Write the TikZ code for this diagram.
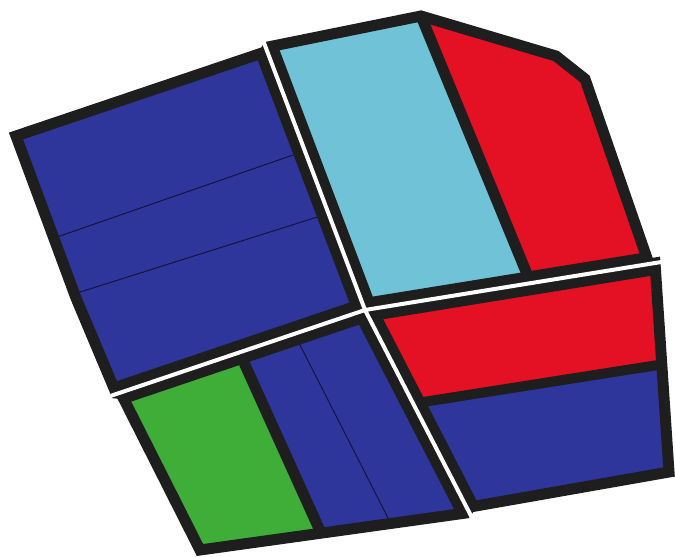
\documentclass[tikz,border=0pt]{standalone}
\usetikzlibrary{calc}
\definecolor{qblue}{RGB}{46,54,155}
\definecolor{qlight}{RGB}{112,195,214}
\definecolor{qred}{RGB}{228,16,36}
\definecolor{qgreen}{RGB}{62,174,56}
\definecolor{qblack}{RGB}{30,30,30}
\definecolor{qthin}{RGB}{20,20,60}
\begin{document}
\begin{tikzpicture}[x=0.5pt,y=-0.5pt,line join=miter,
  border/.style={draw=qblack,line width=5.5pt},
  band/.style={draw=qblack,line width=12pt},
  divider/.style={draw=qblack,line width=5.5pt},
  gapline/.style={draw=white,line width=2pt},
  thinline/.style={draw=qthin,line width=0.5pt}]
\useasboundingbox (0,0) rectangle (675,557);
% outline vertices
\coordinate (P1) at (16,136);
\coordinate (T1) at (265,52);
\coordinate (T2) at (268,47);
\coordinate (A) at (421,16);
\coordinate (Q1) at (556,56);
\coordinate (Q2) at (585,79);
\coordinate (R1) at (649,264);
\coordinate (R2) at (655,263);
\coordinate (BRc) at (669,472);
\coordinate (B2) at (470,507);
\coordinate (B1) at (466,513);
\coordinate (BLc) at (200,550);
\coordinate (L2) at (121,393.5);
\coordinate (L1) at (116,393);
\coordinate (P2) at (76,298);
\coordinate (C) at (365,310);
% cross end points
\coordinate (Tw) at ($(T1)!0.5!(T2)$);
\coordinate (Rw) at ($(R1)!0.5!(R2)$);
\coordinate (Bw) at ($(B1)!0.5!(B2)$);
\coordinate (Lw) at ($(L1)!0.5!(L2)$);
\coordinate (Te) at ($(C)!1.15!(Tw)$);
\coordinate (Re) at ($(C)!1.08!(Rw)$);
\coordinate (Be) at ($(C)!1.12!(Bw)$);
\coordinate (Le) at ($(C)!1.08!(Lw)$);
% guide points for dividers and thin lines
\coordinate (d1) at (513,240);
\coordinate (d2a) at (423,402);
\coordinate (d2b) at (658,365);
\coordinate (d3a) at (246,367);
\coordinate (d3b) at (321,533);
\coordinate (t1a) at (57,237);
\coordinate (t1b) at (293,155);
\coordinate (t2a) at (77,293);
\coordinate (t2b) at (333,212);
\coordinate (t3a) at (300,345);
\coordinate (t3b) at (388,518);
% fills
\fill[qblue] (P1)--(T1)--(C)--(L1)--(P2)--cycle;
\fill[qlight] (T2)--(A)--(Q1)--(Q2)--(R1)--(C)--cycle;
\fill[qred] (A)--(Q1)--(Q2)--(R1)--(intersection of A--d1 and C--R1)--cycle;
\fill[qblue] (C)--(R2)--(BRc)--(B2)--cycle;
\fill[qred] (C)--(R2)--(intersection of d2a--d2b and R2--BRc)--(intersection of d2a--d2b and C--B2)--cycle;
\fill[qblue] (L2)--(C)--(B1)--(BLc)--cycle;
\fill[qgreen] (L2)--(intersection of d3a--d3b and L2--C)--(intersection of d3a--d3b and B1--BLc)--(BLc)--cycle;
% thin lines
\draw[thinline] (intersection of P1--P2 and t1a--t1b) -- (intersection of T1--C and t1a--t1b);
\draw[thinline] (intersection of P1--P2 and t2a--t2b) -- (intersection of T1--C and t2a--t2b);
\draw[thinline] (intersection of L2--C and t3a--t3b) -- (intersection of B1--BLc and t3a--t3b);
% bands and dividers, clipped to the outline
\begin{scope}
\clip (P1)--(T1)--(T2)--(A)--(Q1)--(Q2)--(R1)--(R2)--(BRc)--(B2)--(B1)--(BLc)--(L2)--(L1)--(P2)--cycle;
\draw[band] (Te)--(C)--(Be);
\draw[band] (Le)--(C)--(Re);
\draw[divider] (A) -- (intersection of A--d1 and C--R1);
\draw[divider,line width=5pt] (intersection of d2a--d2b and C--B2) -- (intersection of d2a--d2b and R2--BRc);
\draw[divider] (intersection of d3a--d3b and L2--C) -- (intersection of d3a--d3b and B1--BLc);
\end{scope}
% outer border
\draw[border] (P1)--(T1)--(T2)--(A)--(Q1)--(Q2)--(R1)--(R2)--(BRc)--(B2)--(B1)--(BLc)--(L2)--(L1)--(P2)--cycle;
% white gaps
\draw[gapline] (Te)--(C)--(Be);
\draw[gapline] (Le)--(C)--(Re);
\end{tikzpicture}
\end{document}
